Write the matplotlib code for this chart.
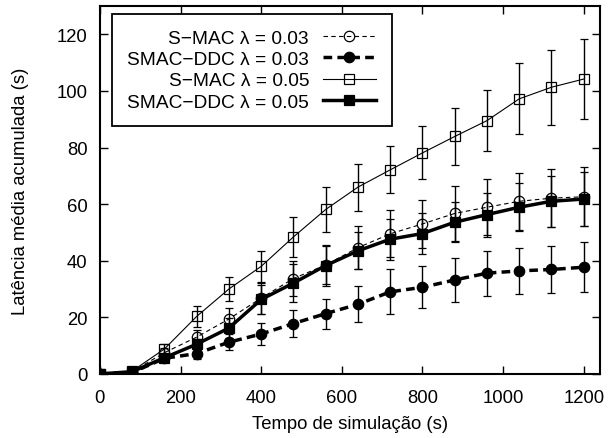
import matplotlib
matplotlib.use("Agg")
import matplotlib.pyplot as plt
import numpy as np

plt.rcParams['font.family'] = ['Liberation Sans', 'DejaVu Sans']

# simulation time (s)
tempo = np.arange(0, 1201, 80)

# S-MAC lambda = 0.03
smac_03 = [0, 0.8, 7.5, 13.0, 19.4, 26.8, 33.7, 38.5, 44.6, 49.5, 53.0, 56.7, 58.9, 61.0, 62.1, 62.6]
smac_03_err = [0, 0.3, 1.5, 2.5, 4.0, 5.5, 6.3, 6.6, 7.7, 8.3, 8.5, 9.8, 9.8, 10.0, 10.2, 10.4]

# SMAC-DDC lambda = 0.03
ddc_03 = [0, 0.5, 5.5, 7.2, 11.2, 14.1, 17.8, 21.3, 24.6, 29.0, 30.6, 33.2, 35.6, 36.4, 36.9, 37.7]
ddc_03_err = [0, 0.2, 1.2, 1.8, 2.9, 3.9, 4.8, 5.3, 6.3, 8.0, 7.4, 7.8, 8.0, 8.1, 8.3, 8.8]

# S-MAC lambda = 0.05
smac_05 = [0, 1.0, 8.8, 20.3, 30.0, 38.0, 48.4, 58.1, 66.0, 72.1, 78.1, 83.9, 89.5, 97.2, 101.3, 104.2]
smac_05_err = [0, 0.3, 1.8, 3.7, 4.4, 5.4, 7.2, 8.1, 8.3, 8.3, 9.4, 10.0, 10.7, 12.5, 13.2, 14.1]

# SMAC-DDC lambda = 0.05
ddc_05 = [0, 0.8, 5.7, 10.5, 16.2, 26.3, 32.1, 38.3, 43.5, 47.6, 49.6, 53.6, 56.3, 58.9, 61.0, 61.8]
ddc_05_err = [0, 0.3, 1.2, 2.0, 3.5, 5.2, 6.8, 7.2, 6.5, 7.2, 7.3, 7.0, 7.8, 8.5, 9.0, 9.5]

labels = ['S\u2212MAC \u03bb = 0.03', 'SMAC\u2212DDC \u03bb = 0.03',
          'S\u2212MAC \u03bb = 0.05', 'SMAC\u2212DDC \u03bb = 0.05']

fig = plt.figure(figsize=(6.09, 4.39), dpi=100)
ax = fig.add_axes([0.164, 0.146, 0.821, 0.838])

series = [
    (smac_03, smac_03_err, dict(ls=(0, (4, 3)), lw=0.8, marker='o', mfc='none', ms=7.5, mew=0.9)),
    (ddc_03, ddc_03_err, dict(ls=(0, (2.5, 1.5)), lw=2.5, marker='o', mfc='k', ms=7.5, mew=0.9)),
    (smac_05, smac_05_err, dict(ls='-', lw=0.8, marker='s', mfc='none', ms=7.5, mew=0.9)),
    (ddc_05, ddc_05_err, dict(ls='-', lw=2.5, marker='s', mfc='k', ms=7.5, mew=0.9)),
]

handles = []
for (vals, errs, st), lab in zip(series, labels):
    c = ax.errorbar(tempo, vals, yerr=errs, color='k', ecolor='k', elinewidth=1.0,
                    capsize=3, capthick=1.0, label=lab, **st)
    handles.append(c[0])

ax.set_xlim(0, 1240)
ax.set_ylim(0, 130)
ax.set_xticks(np.arange(0, 1201, 200))
ax.set_yticks(np.arange(0, 121, 20))
ax.tick_params(direction='in', top=True, right=True, length=6, width=1, labelsize=13.3)
ax.tick_params(axis='x', pad=11)
ax.tick_params(axis='y', pad=9)
for s in ax.spines.values():
    s.set_linewidth(1.5)

ax.set_xlabel('Tempo de simulação (s)', fontsize=13.3, labelpad=6)
ax.set_ylabel('Latência média acumulada (s)', fontsize=13.3, labelpad=20)

leg = ax.legend(handles, labels, loc='upper left', bbox_to_anchor=(0.024, 0.978),
                borderaxespad=0, markerfirst=False, alignment='right',
                fontsize=13.8, handlelength=2.8, handletextpad=0.7,
                labelspacing=0.2, borderpad=0.8, fancybox=False,
                edgecolor='k', framealpha=1)
leg.get_frame().set_linewidth(1.3)

fig.savefig('out.png', dpi=100)
